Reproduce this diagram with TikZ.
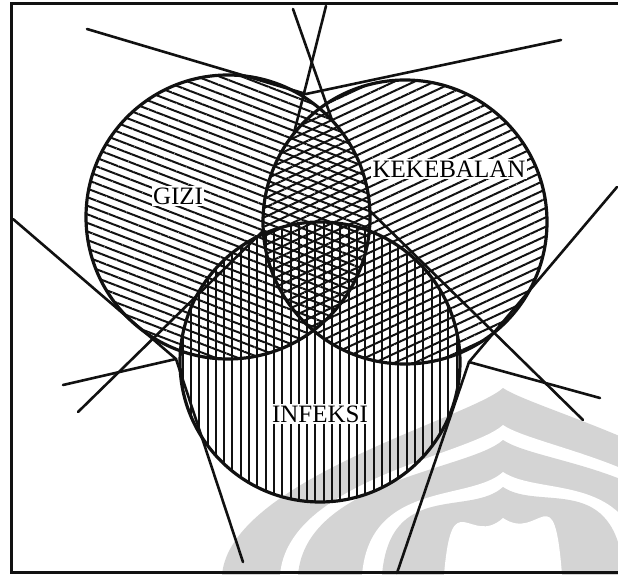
\documentclass[tikz,border=0pt]{standalone}
\usepackage{fontspec}
\setmainfont{Liberation Serif}
\usetikzlibrary{patterns.meta}
\definecolor{inkBlack}{HTML}{111111}
\definecolor{markGrey}{HTML}{D4D4D4}
\tikzset{
  outline/.style={draw=inkBlack, line width=3.2pt},
  ray/.style={draw=inkBlack, line width=2.6pt, line cap=round},
  frameline/.style={draw=inkBlack, line width=2.6pt},
  hatchGizi/.style={pattern={Lines[angle=-21, distance=8pt, line width=2pt]},
    pattern color=inkBlack},
  hatchKebal/.style={pattern={Lines[angle=25, distance=8.5pt, line width=2pt]},
    pattern color=inkBlack},
  hatchInfeksi/.style={pattern={Lines[angle=90, distance=8.3pt, line width=2pt]},
    pattern color=inkBlack},
  setlabel/.style={fill=white, inner sep=1.5pt, font=\fontsize{25}{30}\selectfont},
}

\begin{document}
\begin{tikzpicture}[x=1pt, y=-1pt]
  \useasboundingbox (0,0) rectangle (618,575);
  % faint watermark behind the diagram
  \foreach \xl/\yt/\shade in {222/388/markGrey, 280/425/white, 298/440/markGrey,
      362/472/white, 382/487/markGrey, 444/518/white}
    \fill[\shade] (\xl,575) .. controls (\xl+8,480) and (470,\yt+30) .. (503,\yt)
      .. controls (540,\yt+25) and ({1006-\xl-8},470) .. ({1006-\xl},575) -- cycle;

  \coordinate (gc) at (228,217);
  \coordinate (kc) at (405,222);
  \coordinate (ic) at (320,362);
  \coordinate (topnotch) at (306,94);
  \coordinate (leftnotch) at (176,359);
  \coordinate (rightnotch) at (469,362);

  % hatching of the three sets
  \fill[hatchGizi] (gc) circle[radius=142];
  \fill[hatchKebal] (kc) circle[radius=142];
  \fill[hatchInfeksi] (ic) circle[radius=140];

  \draw[outline] (gc) circle[radius=142];
  \draw[outline] (kc) circle[radius=142];
  \draw[outline] (ic) circle[radius=140];

  % tangent rays into the notches
  \coordinate (gtail) at (87,29);
  \coordinate (ktail) at (561,40);
  \coordinate (gleft) at (13,219);
  \coordinate (ileft) at (243,562);
  \coordinate (kright) at (617,187);
  \coordinate (iright) at (397,573);
  \draw[ray] (gtail) -- (topnotch) -- (ktail);
  \draw[ray] (gleft) -- (leftnotch) -- (ileft);
  \draw[ray] (kright) -- (rightnotch) -- (iright);

  % long crossing strokes
  \coordinate (c1left) at (63,385);
  \coordinate (c1right) at (600,398);
  \coordinate (c2low) at (78,412);
  \coordinate (c2join) at (264,230);
  \coordinate (c2up) at (294,133);
  \coordinate (c2top) at (326,6);
  \coordinate (c3top) at (293,9);
  \coordinate (c3join) at (332,120);
  \coordinate (c3mid) at (369,210);
  \coordinate (c3low) at (583,420);
  \draw[ray] (c1left) -- (leftnotch);
  \draw[ray] (rightnotch) -- (c1right);
  \draw[ray] (c2low) -- (c2join);
  \draw[ray] (c2up) -- (c2top);
  \draw[ray] (c3top) -- (c3join);
  \draw[ray] (c3mid) -- (c3low);

  \node[setlabel] (gizi) at (178,196) {GIZI};
  \node[setlabel] (kebal) at (449,169) {KEKEBALAN};
  \node[setlabel] (infeksi) at (320,414) {INFEKSI};

  \draw[frameline] (618,3.5) -| (11.5,572.5) -- (618,572.5);
\end{tikzpicture}
\end{document}
